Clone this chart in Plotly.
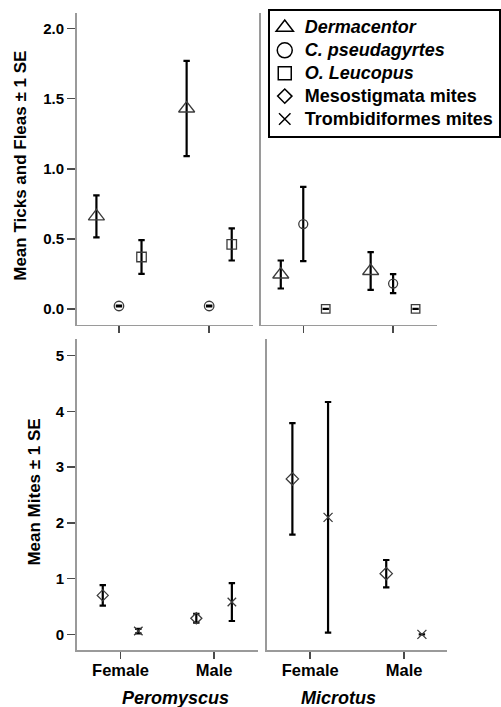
import plotly.graph_objects as go

# ---------------- data ----------------
categories = ["Female", "Male"]
hosts = ["Peromyscus", "Microtus"]

# Mean ticks and fleas (top row)
derm_pero = [0.66, 1.43]
derm_pero_se = [0.15, 0.34]
cpseu_pero = [0.02, 0.02]
cpseu_pero_se = [0.003, 0.003]
oleu_pero = [0.37, 0.46]
oleu_pero_se = [0.12, 0.115]

derm_micro = [0.245, 0.27]
derm_micro_se = [0.10, 0.135]
cpseu_micro = [0.605, 0.18]
cpseu_micro_se = [0.265, 0.068]
oleu_micro = [0.0, 0.0]
oleu_micro_se = [0.0, 0.0]

# Mean mites (bottom row)
meso_pero = [0.70, 0.29]
meso_pero_se = [0.185, 0.08]
tromb_pero = [0.06, 0.58]
tromb_pero_se = [0.04, 0.34]

meso_micro = [2.79, 1.09]
meso_micro_se = [1.0, 0.245]
tromb_micro = [2.10, 0.0]
tromb_micro_se = [2.07, 0.0]

top_ticks = [0.0, 0.5, 1.0, 1.5, 2.0]
bottom_ticks = [0, 1, 2, 3, 4, 5]

legend_names = ["<i>Dermacentor</i>", "<i>C. pseudagyrtes</i>", "<i>O. Leucopus</i>",
                "Mesostigmata mites", "Trombidiformes mites"]

# ---------------- styling ----------------
W, H = 501, 707
FONT = "Liberation Sans, Arial, sans-serif"
MARK = "#3c3c3c"
AXIS = "#9a9a9a"
TICKC = "#4a4a4a"

fig = go.Figure()


def add_series(xax, yax, vals, errs, offset, symbol, size):
    fig.add_trace(go.Scatter(
        x=[i + offset for i in range(len(categories))], y=vals,
        mode="markers", xaxis=xax, yaxis=yax, showlegend=False,
        marker=dict(symbol=symbol, size=size, color=MARK,
                    line=dict(width=1.3, color=MARK)),
        error_y=dict(type="data", array=errs, visible=True, color="black",
                     thickness=2.2, width=3.2),
        hoverinfo="skip"))


# top-left: Peromyscus ticks/fleas
add_series("x", "y", derm_pero, derm_pero_se, -0.25, "triangle-up-open", 14)
add_series("x", "y", cpseu_pero, cpseu_pero_se, 0.0, "circle-open", 9.5)
add_series("x", "y", oleu_pero, oleu_pero_se, 0.25, "square-open", 9.5)
# top-right: Microtus ticks/fleas
add_series("x2", "y2", derm_micro, derm_micro_se, -0.25, "triangle-up-open", 14)
add_series("x2", "y2", cpseu_micro, cpseu_micro_se, 0.0, "circle-open", 9)
add_series("x2", "y2", oleu_micro, oleu_micro_se, 0.25, "square-open", 8.5)
# bottom-left: Peromyscus mites
add_series("x3", "y3", meso_pero, meso_pero_se, -0.19, "diamond-open", 8.5)
add_series("x3", "y3", tromb_pero, tromb_pero_se, 0.19, "x-thin-open", 8.5)
# bottom-right: Microtus mites
add_series("x4", "y4", meso_micro, meso_micro_se, -0.19, "diamond-open", 9.5)
add_series("x4", "y4", tromb_micro, tromb_micro_se, 0.19, "x-thin-open", 9)

# legend proxies
leg_symbols = [("triangle-up-open", 15), ("circle-open", 15), ("square-open", 13),
               ("diamond-open", 11), ("x-thin-open", 11.5)]
for name, (sym, sz) in zip(legend_names, leg_symbols):
    fig.add_trace(go.Scatter(
        x=[None], y=[None], mode="markers", xaxis="x2", yaxis="y2",
        name='<span style="font-size:18px">' + name + '</span>',
        marker=dict(symbol=sym, size=sz, color="black", line=dict(width=1.5, color="black")),
        showlegend=True, hoverinfo="skip"))


def xd(a, b):
    return [a / W, b / W]


def yd(top, bottom):
    return [1 - bottom / H, 1 - top / H]


common_x = dict(showgrid=False, zeroline=False, showline=True, linecolor=AXIS, linewidth=1.5,
                tickvals=[0, 1], ticktext=categories, ticks="outside", ticklen=7,
                tickwidth=1.5, tickcolor=TICKC, fixedrange=True,
                tickfont=dict(family=FONT, size=16.5, color="black", weight="bold"))
common_y = dict(showgrid=False, zeroline=False, showline=True, linecolor=AXIS, linewidth=1.5,
                fixedrange=True, tickwidth=1.5, tickcolor=TICKC,
                tickfont=dict(family=FONT, size=15, color="black", weight="bold"))

fig.update_layout(
    width=W, height=H, margin=dict(l=0, r=0, t=0, b=0),
    paper_bgcolor="white", plot_bgcolor="white",
    font=dict(family=FONT, color="black"),
    xaxis=dict(common_x, domain=xd(77.5, 256), range=[-0.47, 1.485], anchor="y",
               showticklabels=False),
    yaxis=dict(common_y, domain=yd(13, 324.5), range=[-0.112, 2.112], anchor="x",
               tickvals=top_ticks, tickformat=".1f", ticks="outside", ticklen=8,
               ticklabelstandoff=0),
    xaxis2=dict(common_x, domain=xd(264, 442), range=[-0.472, 1.485], anchor="y2",
                showticklabels=False),
    yaxis2=dict(common_y, domain=yd(13, 324.5), range=[-0.112, 2.112], anchor="x2",
                showticklabels=False, ticks=""),
    xaxis3=dict(common_x, domain=xd(77.5, 261), range=[-0.47, 1.468], anchor="y3",
                ticklabelstandoff=-2),
    yaxis3=dict(common_y, domain=yd(339, 650), range=[-0.28, 5.30], anchor="x3",
                tickvals=bottom_ticks, ticks="outside", ticklen=8, ticklabelstandoff=0),
    xaxis4=dict(common_x, domain=xd(270, 452), range=[-0.463, 1.453], anchor="y4",
                ticklabelstandoff=-2),
    yaxis4=dict(common_y, domain=yd(339, 650), range=[-0.28, 5.30], anchor="x4",
                showticklabels=False, ticks=""),
    legend=dict(x=271 / W, y=1 - 9 / H, xanchor="left", yanchor="top",
                bordercolor="black", borderwidth=2, bgcolor="white",
                font=dict(family=FONT, size=15.3, color="black", weight="bold"),
                itemwidth=30, tracegroupgap=0, indentation=-5),
    showlegend=True,
)

# axis titles and host labels
fig.add_annotation(text="Mean Ticks and Fleas ± 1 SE", textangle=-90, xref="paper", yref="paper",
                   x=20 / W, y=1 - 166 / H, showarrow=False, xanchor="center", yanchor="middle",
                   font=dict(family=FONT, size=17, color="black", weight="bold"))
fig.add_annotation(text="Mean Mites ± 1 SE", textangle=-90, xref="paper", yref="paper",
                   x=34 / W, y=1 - 492 / H, showarrow=False, xanchor="center", yanchor="middle",
                   font=dict(family=FONT, size=17, color="black", weight="bold"))
host_x = [177.5, 343]
for lab, hx in zip(hosts, host_x):
    fig.add_annotation(text="<i>" + lab + "</i>", xref="paper", yref="paper",
                       x=hx / W, y=-3 / H, showarrow=False, xanchor="center",
                       yanchor="bottom",
                       font=dict(family=FONT, size=18, color="black", weight="bold"))

fig.write_html("out.html",
               config={"displayModeBar": False, "staticPlot": True},
               post_script="document.body.style.margin='0px';document.body.style.padding='0px';"
                           "document.body.style.overflow='hidden';")
